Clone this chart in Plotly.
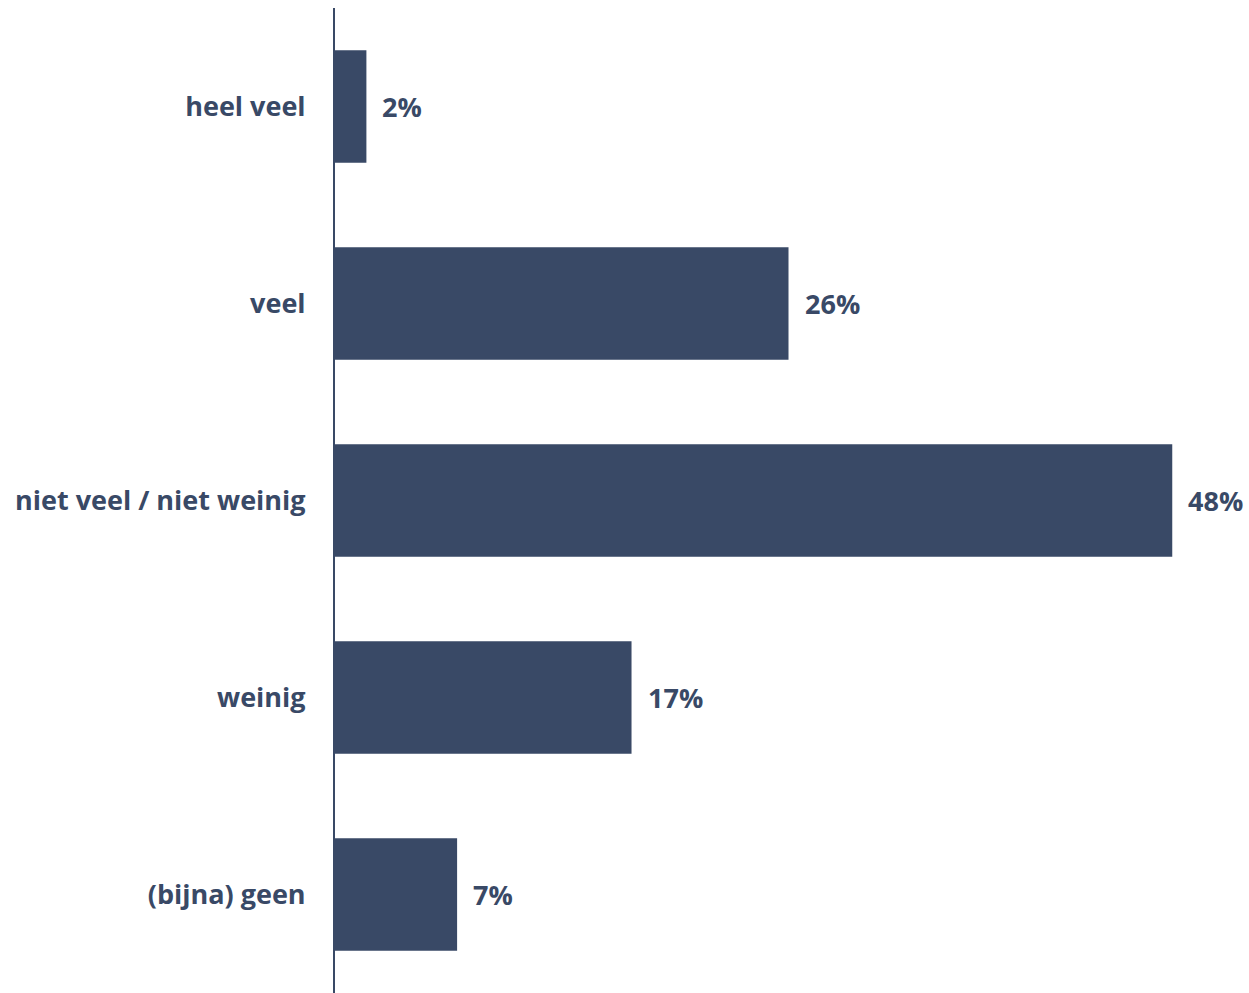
import plotly.graph_objects as go

categories = ["heel veel", "veel", "niet veel / niet weinig", "weinig", "(bijna) geen"]
values = [1.8, 26, 48, 17, 7]
value_labels = ["2%", "26%", "48%", "17%", "7%"]

color = "#394966"
font = dict(family="Open Sans", size=27, color=color, weight="bold")

fig = go.Figure(go.Bar(
    y=categories,
    x=values,
    orientation="h",
    marker=dict(color=color, line=dict(width=0)),
    hoverinfo="skip",
))

for cat, val, lab in zip(categories, values, value_labels):
    fig.add_annotation(
        x=val, y=cat, text=lab, showarrow=False,
        xanchor="left", yanchor="middle", xshift=14,
        font=font,
    )

fig.update_layout(
    width=1249, height=993,
    margin=dict(l=335, r=0, t=8, b=0),
    plot_bgcolor="white", paper_bgcolor="white",
    bargap=0.428,
    showlegend=False,
)
fig.update_xaxes(range=[0, 52.4], visible=False, showgrid=False, zeroline=False)
fig.update_yaxes(
    autorange="reversed", automargin=False,
    showline=True, linecolor=color, linewidth=2,
    showgrid=False, zeroline=False,
    ticks="", ticklabelstandoff=22,
    tickfont=font,
)

fig.write_html(
    "out.html",
    config={"displayModeBar": False},
    post_script="document.body.style.margin='0';document.body.style.overflow='hidden';",
)
